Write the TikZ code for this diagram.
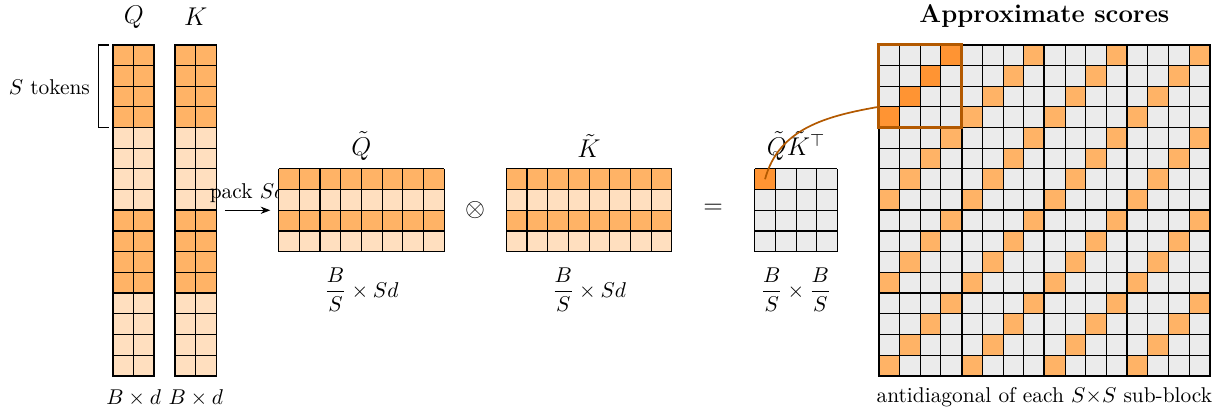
\documentclass[tikz,border=0pt]{standalone}
\usepackage{amsmath,amssymb}
\usepackage{tikz}
\usetikzlibrary{arrows.meta}
\usepackage{xcolor}
\definecolor{tokdark}{RGB}{255,179,102}
\definecolor{tokpale}{RGB}{255,223,191}
\definecolor{hotcell}{RGB}{255,148,51}
\definecolor{cellgray}{RGB}{235,235,235}
\definecolor{boxbrown}{RGB}{179,89,0}

\begin{document}
\begin{tikzpicture}[scale=0.34,
    thingrid/.style={black,line width=0.5pt},
    blockgrid/.style={black,line width=0.9pt},
    matlab/.style={font=\large}]
  \useasboundingbox (-5.46,-1.55) rectangle (53.29,18.16);
  % Q and K columns, S=4 tokens per block
  \foreach \cx in {0,3} {
    \foreach \b/\col in {0/tokdark,1/tokpale,2/tokdark,3/tokpale}
      \fill[\col] (\cx,12-4*\b) rectangle (\cx+2,16-4*\b);
    \draw[thingrid] (\cx,0) grid (\cx+2,16);
    \foreach \b in {0,...,3}
      \draw[blockgrid] (\cx,4*\b) rectangle ++(2,4);
  }
  \node[matlab] (qlab) at (1,17.35) {$Q$};
  \node[matlab] (klab) at (4,17.35) {$K$};
  \node (qdim) at (1,-1.05) {$B\times d$};
  \node (kdim) at (4,-1.05) {$B\times d$};
  \draw[thick] (-0.2,16) -- (-0.7,16) -- (-0.7,12) -- (-0.2,12);
  \node[left] (stok) at (-0.75,13.95) {$S$ tokens};
  % packing arrow (label sits under the packed matrix)
  \coordinate (packL) at (5.4,8);
  \coordinate (packR) at (7.6,8);
  \draw[-{Stealth[length=4.5pt]}] (packL) -- node[above] (packlab) {pack $Sd$} (packR);
  % packed matrices
  \foreach \mx in {8,19} {
    \fill[tokdark] (\mx,9) rectangle (\mx+8,10);
    \fill[tokpale] (\mx,8) rectangle (\mx+8,9);
    \fill[tokdark] (\mx,7) rectangle (\mx+8,8);
    \fill[tokpale] (\mx,6) rectangle (\mx+8,7);
    \draw[thingrid] (\mx,6) grid (\mx+8,10);
  }
  \node[matlab] (qtlab) at (12,11.1) {$\tilde{Q}$};
  \node[matlab] (ktlab) at (23,11.1) {$\tilde{K}$};
  \node (qtdim) at (12,4.15) {$\dfrac{B}{S}\times Sd$};
  \node (ktdim) at (23,4.15) {$\dfrac{B}{S}\times Sd$};
  \node[matlab] (otim) at (17.5,8) {$\otimes$};
  \node[matlab] (eqs) at (29,8.05) {$=$};
  % product
  \fill[cellgray] (31,6) rectangle (35,10);
  \fill[hotcell] (31,9) rectangle (32,10);
  \draw[thingrid] (31,6) grid (35,10);
  \node[matlab] (prodlab) at (33,11.1) {$\tilde{Q}\tilde{K}^{\top}$};
  \node (proddim) at (33,4.15) {$\dfrac{B}{S}\times\dfrac{B}{S}$};
  % approximate scores
  \fill[cellgray] (37,0) rectangle (53,16);
  \foreach \bi in {0,...,3}
    \foreach \bj in {0,...,3}
      \foreach \r in {0,...,3}
        \fill[tokdark] (37+4*\bj+3-\r,15-4*\bi-\r) rectangle ++(1,1);
  \foreach \r in {0,...,3}
    \fill[hotcell] (40-\r,15-\r) rectangle ++(1,1);
  \draw[thingrid] (37,0) grid (53,16);
  \foreach \bi in {0,...,3}
    \foreach \bj in {0,...,3}
      \draw[blockgrid] (37+4*\bj,4*\bi) rectangle ++(4,4);
  \draw[boxbrown,line width=1.3pt] (37,12) rectangle (41,16);
  \node[font=\large\bfseries] (title) at (45,17.4) {Approximate scores};
  \node (caption) at (45,-1.05) {antidiagonal of each $S{\times}S$ sub-block};
  % zoom link
  \coordinate (hot) at (31.5,9.5);
  \coordinate (zoomin) at (37,13);
  \draw[boxbrown,thick] (hot) to[out=75,in=190] (zoomin);
\end{tikzpicture}
\end{document}
